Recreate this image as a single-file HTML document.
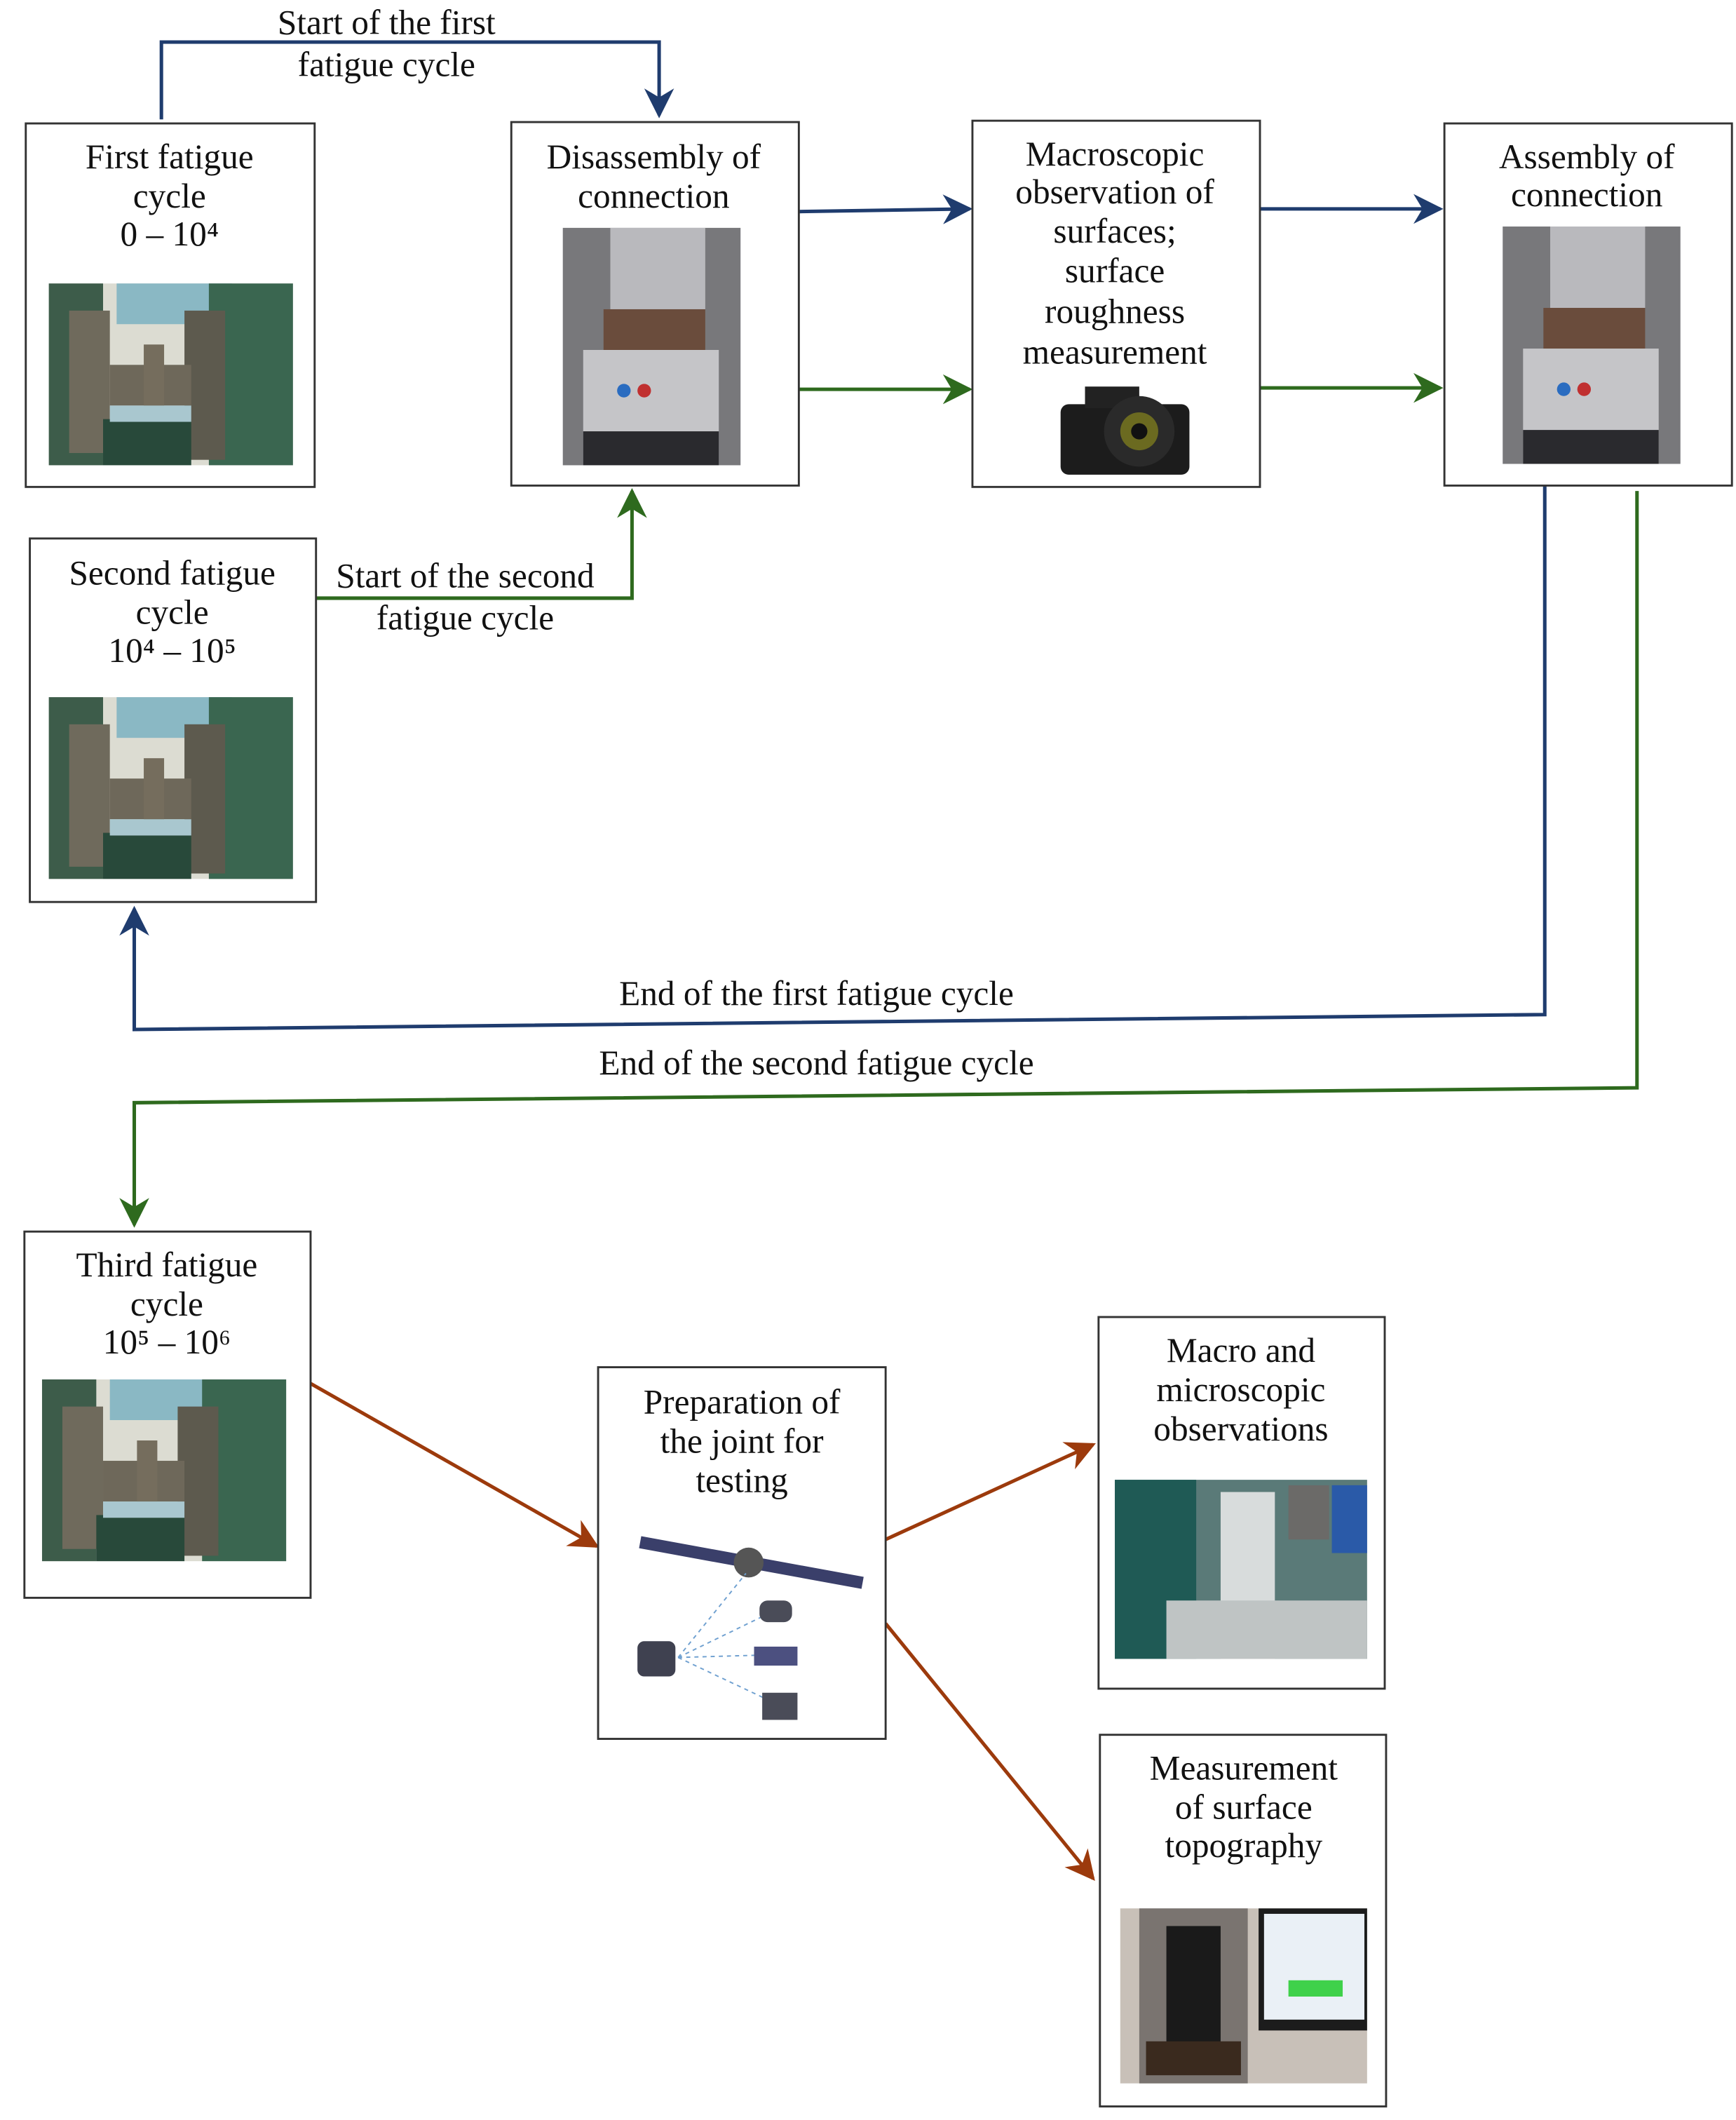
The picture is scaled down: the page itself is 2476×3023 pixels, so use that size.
<!DOCTYPE html>
<html><head><meta charset="utf-8"><style>
html,body{margin:0;padding:0;background:#fff;}
svg{display:block;}
text{font-family:"Liberation Serif",serif;font-size:25.5px;fill:#111;text-anchor:middle;}
</style></head><body>
<svg width="2476" height="3023" viewBox="0 0 1280 1563" preserveAspectRatio="none" xmlns="http://www.w3.org/2000/svg">
<defs>
<marker id="ab" viewBox="0 0 10 10" refX="9" refY="5" markerWidth="22" markerHeight="22" markerUnits="userSpaceOnUse" orient="auto"><path d="M0,0 L10,5 L0,10 L3,5 Z" fill="#1f3c6e"/></marker>
<marker id="ag" viewBox="0 0 10 10" refX="9" refY="5" markerWidth="22" markerHeight="22" markerUnits="userSpaceOnUse" orient="auto"><path d="M0,0 L10,5 L0,10 L3,5 Z" fill="#2e6a1e"/></marker>
<marker id="ar" viewBox="0 0 10 10" refX="9" refY="5" markerWidth="22" markerHeight="22" markerUnits="userSpaceOnUse" orient="auto"><path d="M0,0 L10,5 L0,10 L3,5 Z" fill="#9c3a0c"/></marker>
<g id="mach">
<rect width="180" height="134" fill="#dcdcd2"/>
<rect x="50" y="0" width="85" height="30" fill="#8ab8c4"/>
<rect x="0" y="0" width="40" height="134" fill="#3d5c4a"/>
<rect x="118" y="0" width="62" height="134" fill="#3a6650"/>
<rect x="15" y="20" width="30" height="105" fill="#6f6a5c"/>
<rect x="100" y="20" width="30" height="110" fill="#5d5a4e"/>
<rect x="45" y="60" width="60" height="30" fill="#6e685a"/>
<rect x="70" y="45" width="15" height="60" fill="#756d5d"/>
<rect x="40" y="100" width="65" height="34" fill="#28493a"/>
<rect x="45" y="90" width="60" height="12" fill="#a9c7cf"/>
</g>
<g id="inst">
<rect width="131" height="175" fill="#8a8a8e"/>
<rect x="0" y="0" width="131" height="175" fill="#5c5c60" opacity=".4"/>
<rect x="35" y="0" width="70" height="60" fill="#b9b9bd"/>
<rect x="30" y="60" width="75" height="30" fill="#6a4c3c"/>
<rect x="15" y="90" width="100" height="85" fill="#c5c5c8"/>
<rect x="15" y="150" width="100" height="25" fill="#2a2a2e"/>
<circle cx="45" cy="120" r="5" fill="#2a6cc0"/><circle cx="60" cy="120" r="5" fill="#c03030"/>
</g>
</defs>

<g fill="none" stroke-width="2.6">
<polyline points="119,88 119,31 486,31 486,85" stroke="#1f3c6e" marker-end="url(#ab)"/>
<line x1="589" y1="156" x2="715" y2="154" stroke="#1f3c6e" marker-end="url(#ab)"/>
<line x1="929" y1="154" x2="1062" y2="154" stroke="#1f3c6e" marker-end="url(#ab)"/>
<line x1="589" y1="287" x2="715" y2="287" stroke="#2e6a1e" marker-end="url(#ag)"/>
<line x1="929" y1="286" x2="1062" y2="286" stroke="#2e6a1e" marker-end="url(#ag)"/>
<polyline points="233,441 466,441 466,362" stroke="#2e6a1e" marker-end="url(#ag)"/>
<polyline points="1139,358 1139,748 99,759 99,670" stroke="#1f3c6e" marker-end="url(#ab)"/>
<polyline points="1207,362 1207,802 99,813 99,903" stroke="#2e6a1e" marker-end="url(#ag)"/>
<line x1="229" y1="1020" x2="440" y2="1140" stroke="#9c3a0c" marker-end="url(#ar)"/>
<line x1="653" y1="1135" x2="806" y2="1065" stroke="#9c3a0c" marker-end="url(#ar)"/>
<line x1="653" y1="1197" x2="806" y2="1385" stroke="#9c3a0c" marker-end="url(#ar)"/>
</g>

<g fill="#fff" stroke="#333" stroke-width="1.5">
<rect x="19" y="91" width="213" height="268"/>
<rect x="377" y="90" width="212" height="268"/>
<rect x="717" y="89" width="212" height="270"/>
<rect x="1065" y="91" width="212" height="267"/>
<rect x="22" y="397" width="211" height="268"/>
<rect x="18" y="908" width="211" height="270"/>
<rect x="441" y="1008" width="212" height="274"/>
<rect x="810" y="971" width="211" height="274"/>
<rect x="811" y="1279" width="211" height="274"/>
</g>

<use href="#mach" x="36" y="209"/>
<use href="#mach" x="36" y="514"/>
<use href="#mach" x="31" y="1017"/>
<use href="#inst" x="415" y="168"/>
<use href="#inst" x="1108" y="167"/>
<g>
<rect x="782" y="298" width="95" height="52" rx="6" fill="#1c1c1c"/>
<rect x="800" y="285" width="40" height="16" fill="#222"/>
<circle cx="840" cy="318" r="26" fill="#2a2a2a"/><circle cx="840" cy="318" r="14" fill="#6b6a20"/><circle cx="840" cy="318" r="6" fill="#111"/>
</g>
<g>
<line x1="472" y1="1137" x2="636" y2="1167" stroke="#3a3f6a" stroke-width="9"/>
<circle cx="552" cy="1152" r="11" fill="#555"/>
<g stroke="#6fa0d0" stroke-dasharray="3,3" fill="none"><line x1="500" y1="1222" x2="570" y2="1188"/><line x1="500" y1="1222" x2="570" y2="1220"/><line x1="500" y1="1222" x2="570" y2="1255"/><line x1="500" y1="1222" x2="550" y2="1160"/></g>
<rect x="470" y="1210" width="28" height="26" rx="5" fill="#3f4150"/>
<rect x="560" y="1180" width="24" height="16" rx="6" fill="#4a4c58"/>
<rect x="556" y="1214" width="32" height="14" fill="#4c5080"/>
<rect x="562" y="1248" width="26" height="20" fill="#4a4c58"/>
</g>
<g>
<rect x="822" y="1091" width="186" height="132" fill="#5a7a78"/>
<rect x="822" y="1091" width="60" height="132" fill="#1f5a55"/>
<rect x="900" y="1100" width="40" height="123" fill="#d8dcdc"/>
<rect x="950" y="1095" width="30" height="40" fill="#6b6a68"/>
<rect x="982" y="1095" width="26" height="50" fill="#2a5aa8"/>
<rect x="860" y="1180" width="148" height="43" fill="#bfc4c4"/>
</g>
<g>
<rect x="826" y="1407" width="182" height="129" fill="#c8c0b8"/>
<rect x="840" y="1407" width="80" height="129" fill="#7a7470"/>
<rect x="860" y="1420" width="40" height="90" fill="#1a1a1a"/>
<rect x="928" y="1407" width="80" height="90" fill="#1c1c1c"/>
<rect x="932" y="1411" width="74" height="78" fill="#eaf0f6"/>
<rect x="950" y="1460" width="40" height="12" fill="#3fd14a"/>
<rect x="845" y="1505" width="70" height="25" fill="#3a2a1e"/>
</g>

<text x="285" y="25">Start of the first</text>
<text x="285" y="56">fatigue cycle</text>
<text x="125" y="124">First fatigue</text>
<text x="125" y="153">cycle</text>
<text x="125" y="181">0 – 10⁴</text>
<text x="482" y="124">Disassembly of</text>
<text x="482" y="153">connection</text>
<text x="822" y="122">Macroscopic</text>
<text x="822" y="150">observation of</text>
<text x="822" y="179">surfaces;</text>
<text x="822" y="208">surface</text>
<text x="822" y="238">roughness</text>
<text x="822" y="268">measurement</text>
<text x="1170" y="124">Assembly of</text>
<text x="1170" y="152">connection</text>
<text x="127" y="431">Second fatigue</text>
<text x="127" y="460">cycle</text>
<text x="127" y="488">10⁴ – 10⁵</text>
<text x="343" y="433">Start of the second</text>
<text x="343" y="464">fatigue cycle</text>
<text x="602" y="741">End of the first fatigue cycle</text>
<text x="602" y="792">End of the second fatigue cycle</text>
<text x="123" y="941">Third fatigue</text>
<text x="123" y="970">cycle</text>
<text x="123" y="998">10⁵ – 10⁶</text>
<text x="547" y="1042">Preparation of</text>
<text x="547" y="1071">the joint for</text>
<text x="547" y="1100">testing</text>
<text x="915" y="1004">Macro and</text>
<text x="915" y="1033">microscopic</text>
<text x="915" y="1062">observations</text>
<text x="917" y="1312">Measurement</text>
<text x="917" y="1341">of surface</text>
<text x="917" y="1369">topography</text>
</svg>
</body></html>
